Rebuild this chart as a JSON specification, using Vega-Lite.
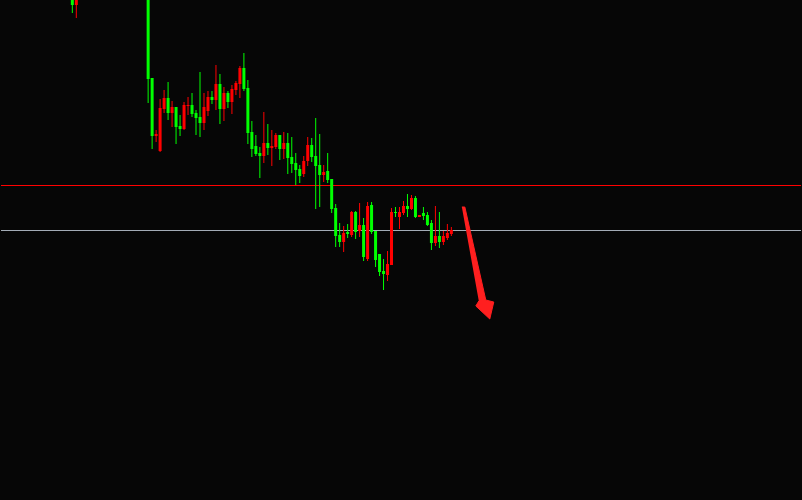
{
  "$schema": "https://vega.github.io/schema/vega-lite/v6.json",
  "width": 802,
  "height": 500,
  "autosize": {"type": "fit", "contains": "padding"},
  "padding": 0,
  "background": "#060606",
  "config": {"view": {"stroke": null}, "axis": {"disable": true}},
  "datasets": {
    "candles": [
      {"t": 18, "open": 520, "high": 525, "low": 487, "close": 495},
      {"t": 19, "open": 495, "high": 520, "low": 482, "close": 515},
      {"t": 37, "open": 540, "high": 545, "low": 397, "close": 421},
      {"t": 38, "open": 422, "high": 422, "low": 351, "close": 364},
      {"t": 39, "open": 364, "high": 370, "low": 358, "close": 366},
      {"t": 40, "open": 349, "high": 401, "low": 348, "close": 392},
      {"t": 41, "open": 391, "high": 410, "low": 387, "close": 402},
      {"t": 42, "open": 402, "high": 418, "low": 380, "close": 387},
      {"t": 43, "open": 387, "high": 399, "low": 373, "close": 393},
      {"t": 44, "open": 393, "high": 393, "low": 356, "close": 373},
      {"t": 45, "open": 374, "high": 385, "low": 364, "close": 371},
      {"t": 46, "open": 371, "high": 398, "low": 370, "close": 395},
      {"t": 47, "open": 394, "high": 403, "low": 385, "close": 395},
      {"t": 48, "open": 395, "high": 407, "low": 383, "close": 386},
      {"t": 49, "open": 387, "high": 390, "low": 365, "close": 382},
      {"t": 50, "open": 383, "high": 428, "low": 363, "close": 377},
      {"t": 51, "open": 377, "high": 407, "low": 370, "close": 393},
      {"t": 52, "open": 389, "high": 409, "low": 384, "close": 403},
      {"t": 53, "open": 403, "high": 409, "low": 396, "close": 400},
      {"t": 54, "open": 400, "high": 435, "low": 390, "close": 416},
      {"t": 55, "open": 416, "high": 426, "low": 376, "close": 391},
      {"t": 56, "open": 391, "high": 413, "low": 379, "close": 407},
      {"t": 57, "open": 407, "high": 409, "low": 392, "close": 398},
      {"t": 58, "open": 398, "high": 415, "low": 386, "close": 411},
      {"t": 59, "open": 410, "high": 419, "low": 405, "close": 417},
      {"t": 60, "open": 416, "high": 434, "low": 402, "close": 432},
      {"t": 61, "open": 432, "high": 447, "low": 409, "close": 411},
      {"t": 62, "open": 412, "high": 420, "low": 356, "close": 367},
      {"t": 63, "open": 368, "high": 379, "low": 343, "close": 351},
      {"t": 64, "open": 354, "high": 365, "low": 344, "close": 346},
      {"t": 65, "open": 347, "high": 353, "low": 322, "close": 344},
      {"t": 66, "open": 344, "high": 388, "low": 337, "close": 357},
      {"t": 67, "open": 357, "high": 376, "low": 345, "close": 352},
      {"t": 68, "open": 352, "high": 370, "low": 334, "close": 354},
      {"t": 69, "open": 353, "high": 367, "low": 351, "close": 365},
      {"t": 70, "open": 365, "high": 365, "low": 340, "close": 351},
      {"t": 71, "open": 351, "high": 368, "low": 341, "close": 357},
      {"t": 72, "open": 357, "high": 367, "low": 326, "close": 342},
      {"t": 73, "open": 343, "high": 363, "low": 327, "close": 336},
      {"t": 74, "open": 337, "high": 347, "low": 315, "close": 330},
      {"t": 75, "open": 331, "high": 335, "low": 317, "close": 324},
      {"t": 76, "open": 326, "high": 344, "low": 323, "close": 339},
      {"t": 77, "open": 339, "high": 363, "low": 334, "close": 355},
      {"t": 78, "open": 355, "high": 362, "low": 338, "close": 343},
      {"t": 79, "open": 344, "high": 382, "low": 291, "close": 334},
      {"t": 80, "open": 335, "high": 366, "low": 293, "close": 325},
      {"t": 81, "open": 325, "high": 335, "low": 318, "close": 328},
      {"t": 82, "open": 329, "high": 347, "low": 317, "close": 320},
      {"t": 83, "open": 321, "high": 321, "low": 287, "close": 291},
      {"t": 84, "open": 292, "high": 296, "low": 253, "close": 264},
      {"t": 85, "open": 265, "high": 277, "low": 253, "close": 258},
      {"t": 86, "open": 258, "high": 274, "low": 248, "close": 267},
      {"t": 87, "open": 268, "high": 276, "low": 262, "close": 266},
      {"t": 88, "open": 265, "high": 289, "low": 263, "close": 288},
      {"t": 89, "open": 288, "high": 289, "low": 261, "close": 268},
      {"t": 90, "open": 269, "high": 297, "low": 263, "close": 275},
      {"t": 91, "open": 275, "high": 282, "low": 239, "close": 243},
      {"t": 92, "open": 241, "high": 298, "low": 239, "close": 294},
      {"t": 93, "open": 295, "high": 298, "low": 266, "close": 268},
      {"t": 94, "open": 269, "high": 269, "low": 233, "close": 240},
      {"t": 95, "open": 246, "high": 246, "low": 224, "close": 228},
      {"t": 96, "open": 229, "high": 241, "low": 210, "close": 226},
      {"t": 97, "open": 225, "high": 249, "low": 219, "close": 236},
      {"t": 98, "open": 235, "high": 292, "low": 235, "close": 288},
      {"t": 99, "open": 288, "high": 293, "low": 283, "close": 287},
      {"t": 100, "open": 283, "high": 293, "low": 271, "close": 288},
      {"t": 101, "open": 287, "high": 299, "low": 285, "close": 294},
      {"t": 102, "open": 294, "high": 306, "low": 283, "close": 291},
      {"t": 103, "open": 291, "high": 305, "low": 290, "close": 302},
      {"t": 104, "open": 302, "high": 304, "low": 282, "close": 283},
      {"t": 105, "open": 283, "high": 285, "low": 283, "close": 285},
      {"t": 106, "open": 287, "high": 293, "low": 280, "close": 284},
      {"t": 107, "open": 285, "high": 288, "low": 274, "close": 275},
      {"t": 108, "open": 277, "high": 280, "low": 250, "close": 257},
      {"t": 109, "open": 257, "high": 294, "low": 254, "close": 264},
      {"t": 110, "open": 264, "high": 288, "low": 252, "close": 258},
      {"t": 111, "open": 258, "high": 269, "low": 255, "close": 264},
      {"t": 112, "open": 262, "high": 276, "low": 260, "close": 267},
      {"t": 113, "open": 266, "high": 273, "low": 264, "close": 270}
    ],
    "levels": [
      {"level": 314.5, "kind": "resistance"},
      {"level": 269.5, "kind": "support"}
    ],
    "arrow": [
      {"i": 1, "t": 115.625, "p": 293},
      {"i": 2, "t": 116.375, "p": 293},
      {"i": 3, "t": 121.625, "p": 200},
      {"i": 4, "t": 123.625, "p": 198},
      {"i": 5, "t": 122.625, "p": 181},
      {"i": 6, "t": 119.125, "p": 194},
      {"i": 7, "t": 119.875, "p": 199}
    ]
  },
  "layer": [
    {
      "data": {"name": "levels"},
      "mark": {"type": "rule", "strokeWidth": 1},
      "encoding": {
        "y": {"field": "level", "type": "quantitative", "scale": {"domain": [0, 500], "nice": false, "zero": false, "padding": 0}},
        "color": {
          "field": "kind",
          "type": "nominal",
          "scale": {"domain": ["resistance", "support"], "range": ["#ff0000", "#a3acb6"]},
          "legend": null
        }
      }
    },
    {
      "data": {"name": "candles"},
      "mark": {"type": "rule", "strokeWidth": 1, "clip": true},
      "encoding": {
        "x": {"field": "t", "type": "quantitative", "scale": {"domain": [0.125, 200.625], "nice": false, "zero": false, "padding": 0}},
        "y": {"field": "low", "type": "quantitative"},
        "y2": {"field": "high"},
        "stroke": {
          "condition": {"test": "datum.close > datum.open", "value": "#ff0000"},
          "value": "#00ff00"
        }
      }
    },
    {
      "data": {"name": "candles"},
      "mark": {"type": "bar", "size": 3, "clip": true},
      "encoding": {
        "x": {"field": "t", "type": "quantitative"},
        "y": {"field": "open", "type": "quantitative"},
        "y2": {"field": "close"},
        "fill": {
          "condition": {"test": "datum.close > datum.open", "value": "#ff0000"},
          "value": "#00ff00"
        }
      }
    },
    {
      "data": {"name": "arrow"},
      "mark": {"type": "line", "fill": "#ff1f1f", "stroke": "#ff1f1f", "strokeWidth": 1, "strokeJoin": "miter"},
      "encoding": {
        "x": {"field": "t", "type": "quantitative"},
        "y": {"field": "p", "type": "quantitative"},
        "order": {"field": "i", "type": "quantitative"}
      }
    }
  ]
}
